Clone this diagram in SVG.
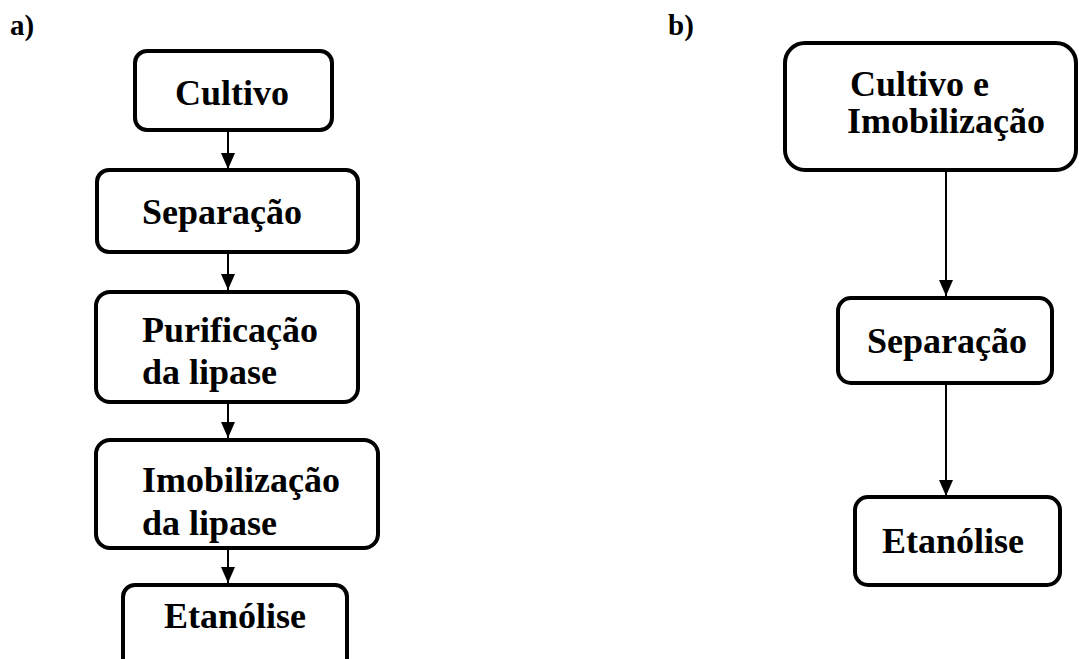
<svg xmlns="http://www.w3.org/2000/svg" width="1079" height="659" viewBox="0 0 1079 659">
<style>
.box{fill:#fff;stroke:#000;stroke-width:4}
.t{font-family:"Liberation Serif","Times New Roman",serif;font-weight:bold;font-size:36px;fill:#000}
.lbl{font-family:"Liberation Serif","Times New Roman",serif;font-weight:bold;font-size:29px;fill:#000}
.c{stroke:#000;stroke-width:2;fill:none}
</style>
<defs>
<marker id="arr" markerUnits="userSpaceOnUse" markerWidth="16" markerHeight="14" viewBox="0 0 16 14" refX="16" refY="7" orient="auto">
<path d="M0,0 L16,7 L0,14 Z" fill="#000"/>
</marker>
</defs>
<text class="lbl" x="10" y="35">a)</text>
<text class="lbl" x="668" y="35">b)</text>
<g id="connectors">
<line class="c" x1="228" y1="131" x2="228" y2="169" marker-end="url(#arr)"/>
<line class="c" x1="228" y1="253" x2="228" y2="290" marker-end="url(#arr)"/>
<line class="c" x1="228" y1="403" x2="228" y2="438" marker-end="url(#arr)"/>
<line class="c" x1="228" y1="549" x2="228" y2="583" marker-end="url(#arr)"/>
<line class="c" x1="946" y1="171" x2="946" y2="296" marker-end="url(#arr)"/>
<line class="c" x1="946" y1="384" x2="946" y2="496" marker-end="url(#arr)"/>
</g>
<g id="a-cultivo">
<rect class="box" x="135" y="51" width="197" height="79" rx="12"/>
<text class="t" x="175" y="105">Cultivo</text>
</g>
<g id="a-separacao">
<rect class="box" x="97" y="170" width="261" height="82" rx="12"/>
<text class="t" x="142" y="224">Separação</text>
</g>
<g id="a-purificacao">
<rect class="box" x="96" y="292" width="262" height="110" rx="14"/>
<text class="t" x="142" y="342">Purificação</text>
<text class="t" x="142" y="384">da lipase</text>
</g>
<g id="a-imobilizacao">
<rect class="box" x="96" y="440" width="282" height="108" rx="14"/>
<text class="t" x="142" y="492">Imobilização</text>
<text class="t" x="142" y="535">da lipase</text>
</g>
<g id="a-etanolise">
<rect class="box" x="123" y="585" width="224" height="90" rx="12"/>
<text class="t" x="164" y="628">Etanólise</text>
</g>
<g id="b-cultivo">
<rect class="box" x="785" y="43" width="291" height="127" rx="20"/>
<text class="t" x="850" y="96">Cultivo e</text>
<text class="t" x="847" y="133">Imobilização</text>
</g>
<g id="b-separacao">
<rect class="box" x="838" y="298" width="214" height="85" rx="13"/>
<text class="t" x="867" y="353">Separação</text>
</g>
<g id="b-etanolise">
<rect class="box" x="855" y="497" width="205" height="88" rx="13"/>
<text class="t" x="882" y="553">Etanólise</text>
</g>
</svg>
